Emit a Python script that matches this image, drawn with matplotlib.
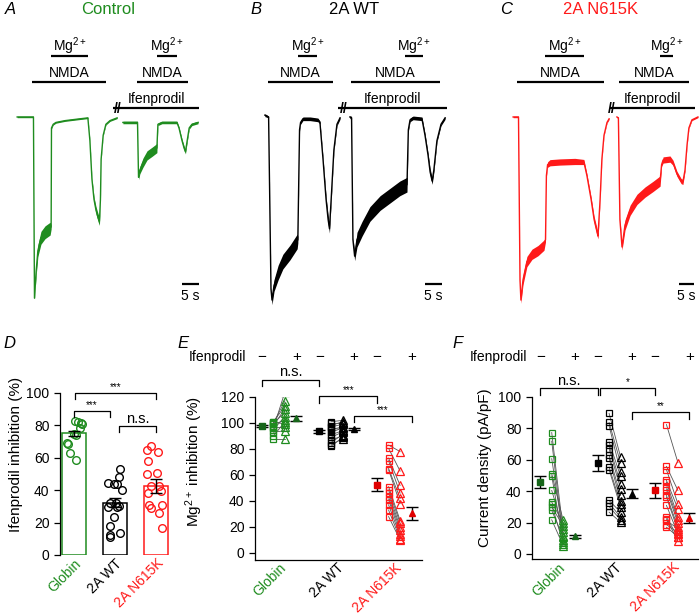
import numpy as np
import matplotlib
matplotlib.use('Agg')
import matplotlib.pyplot as plt
import matplotlib.transforms as mtransforms

plt.rcParams['font.family'] = ['Liberation Sans', 'DejaVu Sans']
plt.rcParams['mathtext.fontset'] = 'custom'
plt.rcParams['mathtext.rm'] = 'Liberation Sans'
plt.rcParams['mathtext.it'] = 'Liberation Sans:italic'
plt.rcParams['mathtext.bf'] = 'Liberation Sans:bold'

GREEN = '#1f8c1f'
DKGREEN = '#17661a'
RED = '#ff1a1a'

# ---------------- current traces (time s, current % of peak, noise half-width) ----
traceA1 = [(2.1, 0, 0.4), (6.9, 0, 0.4), (7.2, -99, 0.6), (7.7, -84, 2.5), (8.2, -73, 3.2),
           (9.1, -66, 3.5), (10.3, -63, 3.5), (11.8, -61, 3.5), (12.1, -60, 1.2), (12.2, -6, 0.5),
           (12.7, -4, 0.4), (13.5, -3, 0.4), (16.2, -2, 0.4), (20.6, -1, 0.4), (22.9, -0.5, 0.4),
           (23.5, -13, 0.6), (24.1, -34, 0.8), (24.7, -45, 1.4), (25.3, -51, 2.0), (25.9, -55, 2.2),
           (26.3, -57, 2.2), (26.6, -45, 1.0), (26.8, -23, 0.6), (27.4, -10, 0.4), (28.2, -4, 0.4),
           (29.4, -2, 0.4), (31.5, -0.5, 0.4)]
traceA2 = [(33.2, -3, 0.7), (37.5, -3, 0.7), (37.8, -33, 1.2), (38.2, -29, 2.0), (39.1, -25, 2.5),
           (40.3, -21, 2.5), (41.8, -19, 2.5), (43.2, -17, 2.5), (43.5, -4, 0.7), (44.7, -3, 0.7),
           (49.1, -3, 0.7), (49.7, -6, 0.7), (50.6, -13, 0.9), (51.2, -17, 1.2), (51.6, -19, 1.2),
           (52.1, -13, 0.9), (52.7, -6, 0.7), (53.5, -4, 0.7), (55.3, -3, 0.7)]
traceB1 = [(2.9, 1, 0.8), (4.0, 0, 0.5), (4.7, -94, 1.0), (5.0, -100, 2.5), (5.6, -92, 3.2),
           (6.8, -85, 4.0), (8.2, -79, 4.0), (10.3, -74, 4.0), (12.4, -68, 4.0), (12.6, -67, 1.8),
           (13.1, -7, 0.8), (13.4, -3, 1.0), (14.1, -1, 1.0), (16.2, -1, 1.0), (18.5, -1.6, 1.0),
           (19.1, -3, 0.8), (20.0, -23, 1.0), (20.9, -45, 1.6), (21.5, -56, 2.4), (21.9, -61, 2.4),
           (22.4, -45, 1.2), (23.2, -18, 1.0), (24.1, -4, 0.8), (25.0, -0.5, 0.8)]
traceB2 = [(27.9, 0, 0.8), (28.4, -0.5, 0.8), (28.8, -67, 1.2), (29.3, -76, 2.5), (30.0, -67, 4.0),
           (31.5, -61, 4.0), (33.8, -53, 4.0), (36.8, -47, 4.0), (39.7, -43, 4.0), (42.6, -39, 4.0),
           (44.7, -37, 4.0), (45.1, -7, 0.8), (45.6, -1.6, 1.0), (46.5, -0.5, 1.0), (49.1, -1, 1.0),
           (50.0, -10, 1.0), (50.9, -21, 1.2), (51.5, -30, 1.8), (52.1, -35, 1.8), (52.6, -29, 1.2),
           (53.5, -13, 0.8), (54.7, -4, 0.8), (55.9, -0.5, 0.8)]
traceC1 = [(2.7, 0, 0.4), (4.5, 0, 0.4), (5.0, -89, 0.8), (5.3, -100, 1.8), (6.0, -89, 2.6),
           (7.3, -79, 2.8), (9.0, -75, 2.8), (11.0, -73, 2.8), (13.0, -70, 2.8), (13.5, -67, 1.2),
           (13.8, -32, 0.6), (14.2, -26, 1.5), (15.0, -25, 1.7), (18.3, -24.6, 1.7), (23.3, -24.3, 1.7),
           (26.3, -24.6, 1.4), (27.3, -32, 1.0), (28.7, -45, 1.3), (29.7, -56, 1.7), (30.7, -63, 2.0),
           (31.0, -65, 1.6), (31.7, -45, 0.8), (32.3, -23, 0.6), (33.0, -10, 0.4), (34.0, -3, 0.4),
           (34.7, -1, 0.4)]
traceC2 = [(37.3, 0, 0.4), (37.8, -0.5, 0.4), (38.3, -56, 0.8), (39.0, -71, 1.8), (40.0, -59, 2.8),
           (41.7, -51, 2.8), (44.0, -45, 2.8), (46.7, -41, 2.8), (49.3, -38, 2.8), (51.7, -35, 2.8),
           (52.2, -26, 1.0), (52.7, -23.5, 1.7), (55.0, -23, 1.7), (56.0, -25, 1.4), (57.3, -31, 1.4),
           (58.7, -35, 1.4), (59.3, -35.5, 1.4), (60.0, -29, 0.8), (60.7, -15, 0.6), (61.3, -6, 0.4),
           (62.3, -1.6, 0.4), (64.3, 0, 0.4)]

# application windows (s)
appsA = dict(mg1=(12.1, 22.9), nmda1=(6.5, 28.2), mg2=(43.2, 49.1), nmda2=(37.4, 52.4), ifen=(30.3, 55.6), brk=31.8, scale=55.6)
appsB = dict(mg1=(12.6, 18.2), nmda1=(3.8, 22.9), mg2=(44.1, 49.4), nmda2=(28.2, 54.4), ifen=(24.4, 56.5), brk=26.2, scale=55.0)
appsC = dict(mg1=(13.3, 26.3), nmda1=(4.0, 33.0), mg2=(51.7, 56.0), nmda2=(38.0, 61.3), ifen=(35.0, 63.3), brk=35.7, scale=63.0)

# ---------------- D: ifenprodil inhibition (%) ----------------
groups = ['Globin', '2A WT', '2A N615K']
d_means = [75.1, 32.3, 42.6]
d_sem = [1.7, 2.8, 4.1]
d_globin = [83.0, 82.3, 81.7, 80.9, 78.6, 74.5, 74.0, 69.0, 68.3, 63.2, 58.6]
d_globin_jit = [0.02, 0.10, 0.16, 0.20, 0.15, 0.00, 0.06, -0.18, -0.14, -0.10, 0.05]
d_wt = [52.9, 48.4, 44.2, 43.8, 43.6, 40.1, 32.3, 32.3, 30.3, 29.8, 29.4, 23.7, 17.9, 13.4, 12.3, 11.3]
d_wt_jit = [0.13, 0.09, -0.16, -0.03, 0.05, 0.17, -0.13, 0.03, 0.09, -0.16, 0.05, -0.03, -0.13, 0.11, -0.11, -0.13]
d_mut = [67.3, 64.8, 63.8, 58.0, 50.4, 50.0, 42.8, 42.8, 38.5, 39.5, 30.9, 30.9, 28.8, 25.7, 16.5]
d_mut_jit = [-0.13, -0.23, 0.04, -0.20, 0.03, -0.21, -0.13, 0.07, -0.20, 0.11, -0.18, 0.15, -0.13, 0.07, 0.15]

# ---------------- E: Mg2+ inhibition (%), paired (- / + ifenprodil) ----------------
e_glo_minus = [87.5, 90, 93, 95, 96, 97, 98, 99, 100, 100, 101, 101]
e_glo_plus = [87.5, 101, 94, 105, 124, 97, 111, 102, 117, 108, 113, 99]
e_wt_minus = [101, 100, 98, 97, 96, 95, 93, 91, 89, 87, 85, 83, 82]
e_wt_plus = [102, 100, 101, 99, 95, 97, 96, 94, 93, 90, 91, 88, 89]
e_mut_minus = [83, 80.5, 73, 71, 65, 64, 51, 48.5, 46, 43, 41, 37, 33, 28]
e_mut_plus = [78, 63, 52, 46, 42, 38, 25, 23, 20, 18, 15, 13, 11, 10]
e_mean_minus = [97.7, 93.5, 52.5]
e_sem_minus = [1.0, 1.2, 5.0]
e_mean_plus = [103.5, 95.5, 30.6]
e_sem_plus = [2.0, 1.0, 5.0]

# ---------------- F: current density (pA/pF) ----------------
f_glo_minus = [77.2, 71.7, 60.6, 51, 49.6, 40.4, 33, 31.5, 29.8, 27.7, 21.7]
f_glo_plus = [13.8, 9, 11.7, 21.3, 7.4, 16, 19.6, 6.4, 18, 10.6, 5.3]
f_wt_minus = [89.4, 83.6, 81.5, 71.3, 69.1, 67, 62.8, 61, 55.3, 53.6, 34, 32.3, 30.2, 26.6]
f_wt_plus = [61.7, 57.9, 52.1, 49.4, 44.7, 41.5, 37.2, 33.6, 31.9, 29.8, 26.6, 23.4, 21.7, 20.2]
f_mut_minus = [82.3, 55.7, 53.6, 46.8, 45.7, 42.6, 40.9, 37.2, 36.2, 30.9, 23.4, 22.3, 21.3, 18.7, 17]
f_mut_plus = [58.1, 40.4, 31.9, 28.7, 23.4, 21.7, 19.6, 17, 14.9, 12.8, 10.6, 8.1, 16, 13.5, 11]
f_mean_minus = [45.7, 57.9, 40.4]
f_sem_minus = [3.6, 5.0, 4.5]
f_mean_plus = [11.3, 38.3, 22.8]
f_sem_plus = [1.0, 3.0, 3.0]

colors = [GREEN, 'black', RED]
fill_colors = [DKGREEN, 'black', '#e00000']

W, H = 700, 616
fig = plt.figure(figsize=(W / 100, H / 100), dpi=100)


def px_axes(x0, y0, x1, y1):
    return fig.add_axes([x0 / W, 1 - y1 / H, (x1 - x0) / W, (y1 - y0) / H])


def draw_trace(ax, seg, color):
    t = np.array([p[0] for p in seg])
    i = np.array([p[1] for p in seg])
    n = np.array([p[2] for p in seg])
    ax.fill_between(t, i - n, i + n, color=color, lw=0)
    ax.plot(t, i, color=color, lw=1)


MG = r'$\mathregular{Mg^{2+}}$'


def trace_panel(x0, tmax, segs, apps, color, letter, title, title_x):
    ax = px_axes(x0, 30, x0 + 195, 305)
    ax.set_xlim(0, tmax)
    ax.set_ylim(-102.7, 47.5)
    ax.axis('off')
    for s in segs:
        draw_trace(ax, s, color)
    tr = mtransforms.blended_transform_factory(ax.transData, ax.transAxes)
    kw = dict(transform=tr, color='black', lw=1.6, clip_on=False, solid_capstyle='butt')
    for key, yb, label, yt in [('mg1', 0.905, MG, 0.925), ('mg2', 0.905, MG, 0.925),
                               ('nmda1', 0.811, 'NMDA', 0.83), ('nmda2', 0.811, 'NMDA', 0.83),
                               ('ifen', 0.716, 'Ifenprodil', 0.735)]:
        t0, t1 = apps[key]
        ax.plot([t0, t1], [yb, yb], **kw)
        ax.text((t0 + t1) / 2, yt, label, transform=tr, ha='center', va='baseline', fontsize=10)
    ax.text(apps['brk'], 0.712, '//', transform=tr, ha='center', va='center', fontsize=10,
            fontweight='bold')
    se = apps['scale']
    ax.plot([se - 5, se], [0.076, 0.076], **kw)
    ax.text(se - 2.5, 0.06, '5 s', transform=tr, ha='center', va='top', fontsize=10)
    fig.text((x0 - 5) / W, 1 - 10 / H, letter, fontsize=12, style='italic', ha='left', va='center')
    fig.text(title_x / W, 1 - 9 / H, title, fontsize=12, ha='center', va='center', color=color)
    return ax


trace_panel(10, 57.35, [traceA1, traceA2], appsA, GREEN, 'A', 'Control', 108)
trace_panel(255, 57.35, [traceB1, traceB2], appsB, 'black', 'B', '2A WT', 354)
trace_panel(505, 65.0, [traceC1, traceC2], appsC, RED, 'C', '2A N615K', 601)


def bracket(ax, x1, x2, y, d, label, small):
    ax.plot([x1, x1, x2, x2], [y - d, y, y, y - d], color='black', lw=0.9, clip_on=False)
    if small:
        ax.text((x1 + x2) / 2, y + d * 0.15, label, ha='center', va='bottom', fontsize=7)
    else:
        ax.text((x1 + x2) / 2, y + d * 0.05, label, ha='center', va='bottom', fontsize=10.5)


def set_xlabels(ax, xs, dx):
    ax.set_xticks(xs)
    ax.set_xticklabels(groups, rotation=45, ha='right', va='top', rotation_mode='anchor', fontsize=10)
    offset = mtransforms.ScaledTranslation(dx / 100, 0, fig.dpi_scale_trans)
    for lab, c in zip(ax.get_xticklabels(), colors):
        lab.set_color(c)
        lab.set_transform(lab.get_transform() + offset)
    ax.tick_params(axis='x', length=0, pad=1)
    ax.tick_params(axis='y', labelsize=10, length=4, width=0.9)


# ---------------- panel D ----------------
axD = px_axes(60, 393, 170, 555)
xD = np.arange(3)
axD.bar(xD, d_means, width=0.58, facecolor='white', edgecolor=colors, lw=1.1, zorder=1)
axD.errorbar(xD, d_means, yerr=d_sem, fmt='none', ecolor='black', elinewidth=1, capsize=4, zorder=3)
for k, (vals, jit) in enumerate([(d_globin, d_globin_jit), (d_wt, d_wt_jit), (d_mut, d_mut_jit)]):
    axD.plot(xD[k] + np.array(jit), vals, 'o', mfc='none', mec=colors[k], ms=5.5, mew=1, zorder=2)
axD.set_xlim(-0.34, 2.34)
axD.set_ylim(0, 100)
axD.set_yticks(range(0, 101, 20))
for s in ['top', 'right', 'bottom']:
    axD.spines[s].set_visible(False)
axD.spines['left'].set_linewidth(0.9)
set_xlabels(axD, xD, 0.12)
axD.set_ylabel('Ifenprodil inhibition (%)', fontsize=11)
axD.yaxis.set_label_coords(-0.34, 0.62)
bracket(axD, 0.02, 2.0, 99.8, 3.7, '***', True)
bracket(axD, 0.0, 0.88, 89.0, 3.7, '***', True)
bracket(axD, 1.1, 2.0, 79.6, 3.7, 'n.s.', False)
fig.text(3 / W, 1 - 344 / H, 'D', fontsize=12, style='italic', ha='left', va='center')


def paired_panel(ax, data, mmin, smin, mplus, splus):
    for k, (vm, vp) in enumerate(data):
        base = 5 * k
        for a, b in zip(vm, vp):
            ax.plot([base + 1, base + 2], [a, b], color='#555555', lw=0.6, zorder=1)
        ax.plot([base + 1] * len(vm), vm, 's', mfc='none', mec=colors[k], ms=5, mew=0.9, zorder=2)
        ax.plot([base + 2] * len(vp), vp, '^', mfc='none', mec=colors[k], ms=6, mew=0.9, zorder=2)
        ax.errorbar([base], [mmin[k]], yerr=[smin[k]], fmt='s', color=fill_colors[k], ms=4.5,
                    ecolor='black', elinewidth=1, capsize=4, zorder=3)
        ax.errorbar([base + 3], [mplus[k]], yerr=[splus[k]], fmt='^', color=fill_colors[k], ms=5,
                    ecolor='black', elinewidth=1, capsize=4, zorder=3)
    for s in ['top', 'right']:
        ax.spines[s].set_visible(False)
    ax.spines['left'].set_linewidth(0.9)
    ax.spines['bottom'].set_linewidth(0.9)
    tr = mtransforms.blended_transform_factory(ax.transData, ax.transAxes)
    for k in range(3):
        ax.text(5 * k, 1.245, '\u2212', transform=tr, ha='center', va='center', fontsize=11)
        ax.text(5 * k + 3, 1.245, '+', transform=tr, ha='center', va='center', fontsize=11)


# ---------------- panel E ----------------
axE = px_axes(255, 397, 422, 559.5)
paired_panel(axE, [(e_glo_minus, e_glo_plus), (e_wt_minus, e_wt_plus), (e_mut_minus, e_mut_plus)],
             e_mean_minus, e_sem_minus, e_mean_plus, e_sem_plus)
axE.set_xlim(-0.6, 13.9)
axE.set_ylim(-5, 120)
axE.set_yticks(range(0, 121, 20))
set_xlabels(axE, [1.5, 6.5, 11.5], 0.04)
axE.set_ylabel('Mg$^{2+}$ inhibition (%)', fontsize=11)
axE.yaxis.set_label_coords(-0.30, 0.6)
trE = mtransforms.blended_transform_factory(axE.transData, axE.transAxes)
axE.text(-1.4, 1.245, 'Ifenprodil', transform=trE, ha='right', va='center', fontsize=10)
bracket(axE, 0, 5, 133.3, 5, 'n.s.', False)
bracket(axE, 5, 10, 120.5, 5, '***', True)
bracket(axE, 8, 13, 105.6, 5, '***', True)
fig.text(177 / W, 1 - 344 / H, 'E', fontsize=12, style='italic', ha='left', va='center')

# ---------------- panel F ----------------
axF = px_axes(532, 396.7, 698, 559)
paired_panel(axF, [(f_glo_minus, f_glo_plus), (f_wt_minus, f_wt_plus), (f_mut_minus, f_mut_plus)],
             f_mean_minus, f_sem_minus, f_mean_plus, f_sem_plus)
axF.set_xlim(-0.72, 13.75)
axF.set_ylim(-3.2, 100)
axF.set_yticks(range(0, 101, 20))
set_xlabels(axF, [1.5, 6.5, 11.5], -0.04)
axF.set_ylabel('Current density (pA/pF)', fontsize=11)
axF.yaxis.set_label_coords(-0.24, 0.56)
trF = mtransforms.blended_transform_factory(axF.transData, axF.transAxes)
axF.text(-1.13, 1.245, 'Ifenprodil', transform=trF, ha='right', va='center', fontsize=10)
bracket(axF, 0, 5, 105.3, 4.5, 'n.s.', False)
bracket(axF, 5.2, 10, 105.3, 4.5, '*', True)
bracket(axF, 8, 13, 90.4, 4.5, '**', True)
fig.text(452 / W, 1 - 344 / H, 'F', fontsize=12, style='italic', ha='left', va='center')

fig.savefig('out.png', dpi=100)
